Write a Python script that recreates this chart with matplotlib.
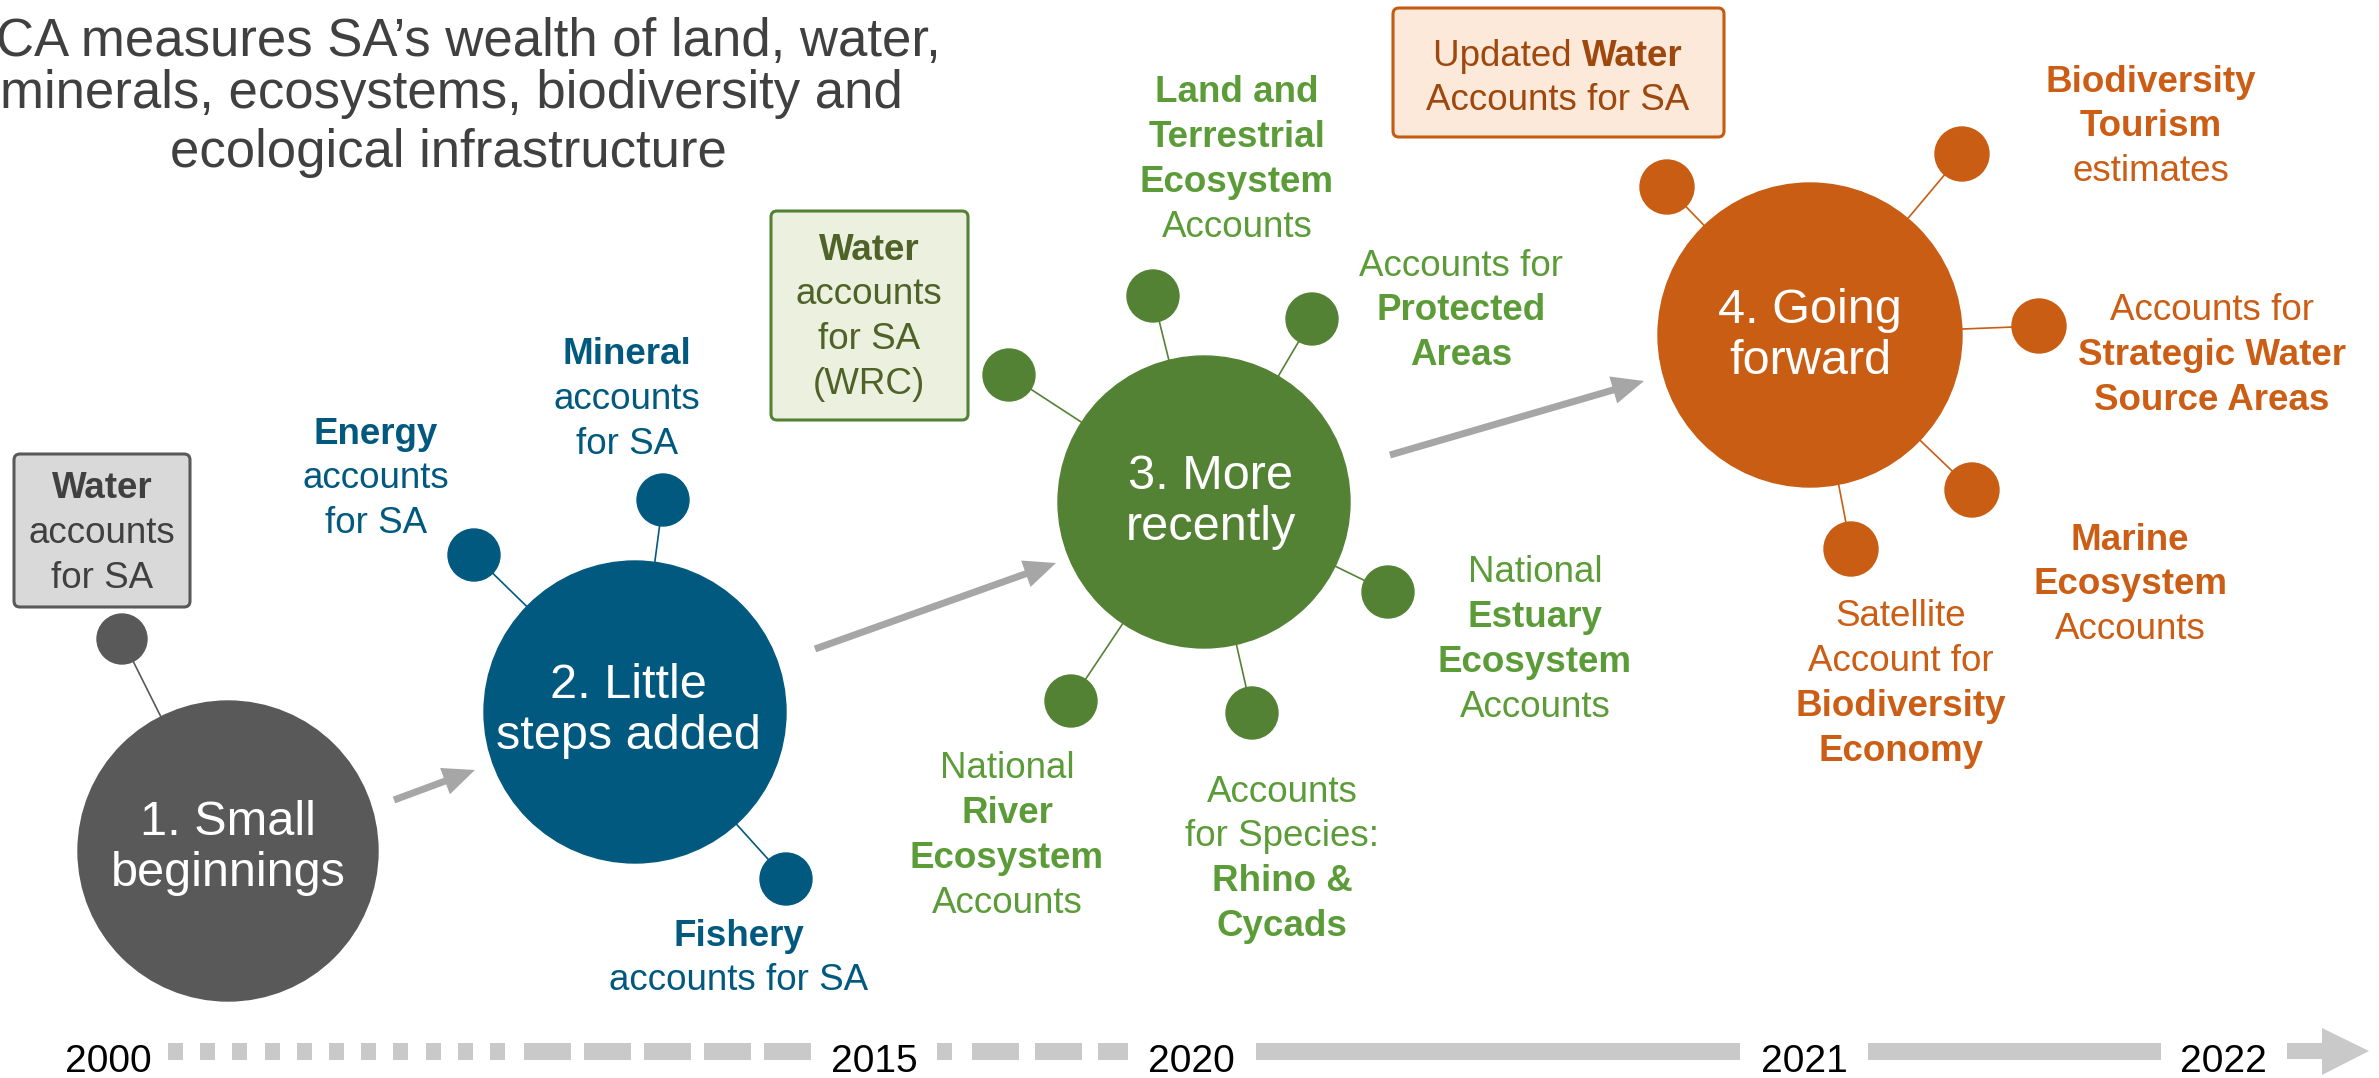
import matplotlib
matplotlib.use("Agg")
import matplotlib.pyplot as plt
from matplotlib.patches import Circle, FancyBboxPatch, Rectangle, Polygon, FancyArrow

plt.rcParams['font.family'] = ['Liberation Sans', 'DejaVu Sans']

W, H = 2379, 1078

# ---------------- data ----------------
title_lines = ["CA measures SA\u2019s wealth of land, water,",
               "minerals, ecosystems, biodiversity and",
               "ecological infrastructure"]

stage_names = ["1. Small\nbeginnings", "2. Little\nsteps added",
               "3. More\nrecently", "4. Going\nforward"]
stage_colors = ["#595959", "#02597F", "#548235", "#C85D13"]
label_colors = ["#404040", "#02597F", "#5C9C38", "#CB5D14"]

years = ["2000", "2015", "2020", "2021", "2022"]

# labels: **x** means bold
labels_gray = [["**Water**", "accounts", "for SA"]]
labels_blue = [["**Energy**", "accounts", "for SA"],
               ["**Mineral**", "accounts", "for SA"],
               ["**Fishery**", "accounts for SA"]]
labels_green = [["**Water**", "accounts", "for SA", "(WRC)"],
                ["**Land and**", "**Terrestrial**", "**Ecosystem**", "Accounts"],
                ["Accounts for", "**Protected**", "**Areas**"],
                ["National", "**Estuary**", "**Ecosystem**", "Accounts"],
                ["National", "**River**", "**Ecosystem**", "Accounts"],
                ["Accounts", "for Species:", "**Rhino &**", "**Cycads**"]]
labels_orange = [["Updated **Water**", "Accounts for SA"],
                 ["**Biodiversity**", "**Tourism**", "estimates"],
                 ["Accounts for", "**Strategic Water**", "**Source Areas**"],
                 ["**Marine**", "**Ecosystem**", "Accounts"],
                 ["Satellite", "Account for", "**Biodiversity**", "**Economy**"]]

# ---------------- layout (pixels) ----------------
stage_xy = [(228, 851), (635, 712), (1204, 502), (1810, 335)]
stage_r = [150, 151, 146, 152]
stage_text_xy = [(228, 848), (628, 711), (1211, 502), (1810, 336)]

dots = {0: [(122, 639)],
        1: [(474, 555), (663, 500), (786, 879)],
        2: [(1009, 375), (1153, 296), (1312, 319), (1388, 592), (1071, 701), (1252, 713)],
        3: [(1667, 187), (1962, 154), (2039, 326), (1972, 490), (1851, 549)]}
dot_r = [25, 26, 26, 27]

label_pos = {0: [(102, 489)],
             1: [(376, 434), (627, 355), (739, 936)],
             2: [(869, 250), (1237, 93), (1461, 266), (1535, 573), (1007, 769), (1282, 792)],
             3: [(1558, 56), (2151, 82), (2212, 311), (2130, 540), (1901, 617)]}
label_sets = [labels_gray, labels_blue, labels_green, labels_orange]

boxes = [  # (x0, y0, x1, y1, face, edge, textcolor, stage, label index)
    (14, 454, 190, 607, "#D9D9D9", "#595959", "#404040", 0, 0),
    (771, 211, 968, 420, "#EBF1DE", "#548235", "#4F6228", 2, 0),
    (1393, 8, 1724, 137, "#FDE9D9", "#C55A11", "#9E480E", 3, 0),
]

arrows = [((394, 800), (475, 770)), ((815, 649), (1056, 563)), ((1390, 455), (1644, 381))]

year_x = [108, 874, 1191, 1804, 2223]
year_y = 1062
tl_y = 1051
tl_h = 17
LINE = 44.7

# ---------------- figure ----------------
fig = plt.figure(figsize=(W / 100, H / 100), dpi=100)
ax = fig.add_axes([0, 0, 1, 1])
ax.set_xlim(0, W)
ax.set_ylim(H, 0)
ax.axis('off')
renderer = fig.canvas.get_renderer()


def parse(line):
    segs = []
    parts = line.split("**")
    for i, p in enumerate(parts):
        if p:
            segs.append((p, 'bold' if i % 2 == 1 else 'normal'))
    return segs


def draw_line(x, y, line, color, size=26.5):
    segs = parse(line)
    widths = []
    objs = []
    for s, wgt in segs:
        t = ax.text(0, y, s, fontsize=size, fontweight=wgt, color=color,
                    ha='left', va='center', zorder=6)
        bb = t.get_window_extent(renderer=renderer)
        widths.append(bb.width)
        objs.append(t)
    total = sum(widths)
    cx = x - total / 2
    for t, w in zip(objs, widths):
        t.set_x(cx)
        cx += w


def draw_label(x, y, lines, color, size=26.5):
    for i, ln in enumerate(lines):
        draw_line(x, y + i * LINE, ln, color, size)


# title
ax.text(941, 42, title_lines[0], fontsize=38, color="#404040", ha='right', va='center')
ax.text(903, 94, title_lines[1], fontsize=38, color="#404040", ha='right', va='center')
ax.text(448, 153, title_lines[2], fontsize=38, color="#404040", ha='center', va='center')

# stages, dots, connectors
for k in range(4):
    cx, cy = stage_xy[k]
    for (dx, dy) in dots[k]:
        ax.plot([dx, cx], [dy, cy], color=stage_colors[k], lw=1.2, zorder=1)
        ax.add_patch(Circle((dx, dy), dot_r[k], color=stage_colors[k], zorder=3))
    ax.add_patch(Circle((cx, cy), stage_r[k], color=stage_colors[k], zorder=2))
    tx, ty = stage_text_xy[k]
    ax.text(tx, ty, stage_names[k], fontsize=35, color='white', ha='center',
            va='center', linespacing=1.17, zorder=5)

# boxes
for (x0, y0, x1, y1, fc, ec, tc, st, li) in boxes:
    ax.add_patch(FancyBboxPatch((x0, y0), x1 - x0, y1 - y0,
                                boxstyle="round,pad=0,rounding_size=6",
                                fc=fc, ec=ec, lw=2.2, zorder=4))

# labels
for k in range(4):
    for j, lines in enumerate(label_sets[k]):
        x, y = label_pos[k][j]
        col = label_colors[k]
        for b in boxes:
            if b[7] == k and b[8] == j:
                col = b[6]
        draw_label(x, y, lines, col)

# grey arrows between stages
for (x0, y0), (x1, y1) in arrows:
    ax.add_patch(FancyArrow(x0, y0, x1 - x0, y1 - y0, width=7, head_width=28,
                            head_length=32, length_includes_head=True,
                            color="#A6A6A6", lw=0, zorder=1))

# timeline
tl_col = "#C9C9C9"


def dashes(start, n, w, period):
    for i in range(n):
        ax.add_patch(Rectangle((start + i * period, tl_y - tl_h / 2), w, tl_h,
                               color=tl_col, lw=0))


dashes(168, 11, 15, 32.2)
dashes(524, 5, 47, 60)
dashes(937, 1, 15, 32)
dashes(972, 2, 47, 63)
ax.add_patch(Rectangle((1098, tl_y - tl_h / 2), 30, tl_h, color=tl_col, lw=0))
ax.add_patch(Rectangle((1256, tl_y - tl_h / 2), 1740 - 1256, tl_h, color=tl_col, lw=0))
ax.add_patch(Rectangle((1868, tl_y - tl_h / 2), 2161 - 1868, tl_h, color=tl_col, lw=0))
ax.add_patch(Polygon([(2287, tl_y - 8), (2322, tl_y - 8), (2322, tl_y - 23),
                      (2369, tl_y), (2322, tl_y + 24), (2322, tl_y + 8),
                      (2287, tl_y + 8)], closed=True, color=tl_col, lw=0))

for yr, x in zip(years, year_x):
    ax.text(x, year_y, yr, fontsize=28, color='black', ha='center', va='center')

fig.savefig("out.png", dpi=100)
